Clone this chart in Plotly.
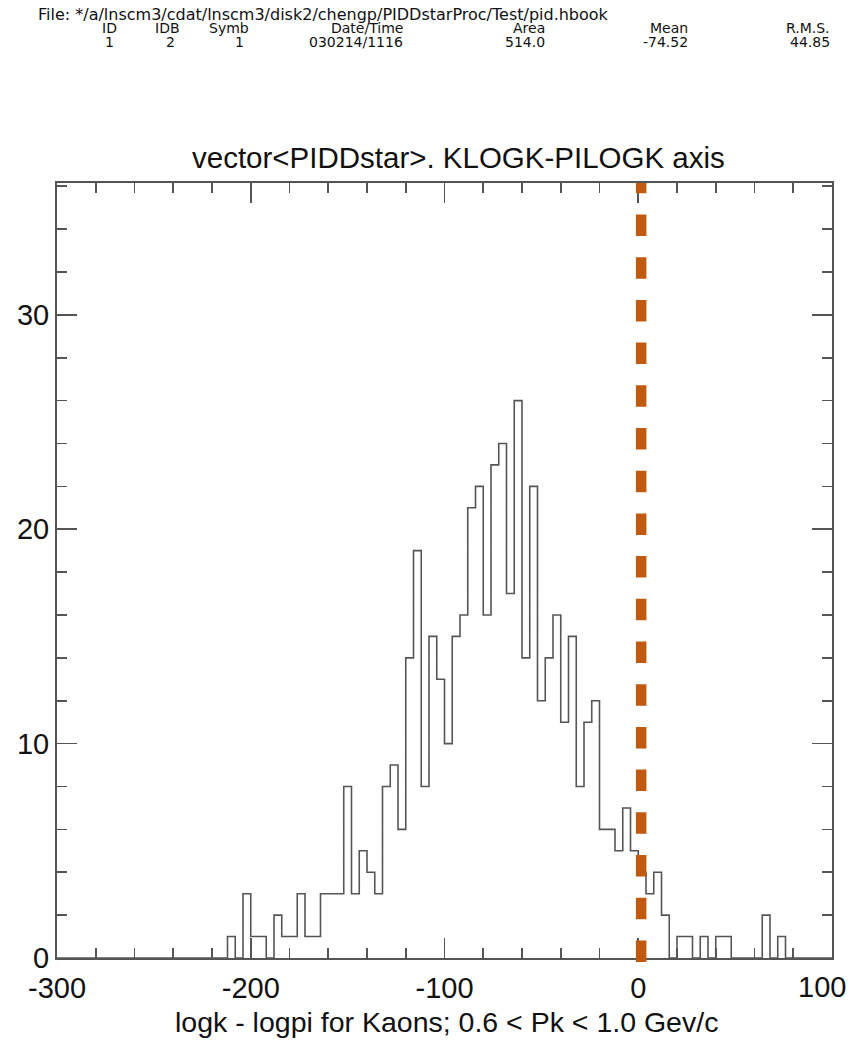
import plotly.graph_objects as go

# ---- data ----
x_min, x_max, bin_width = -300, 100, 4
counts = [
    0, 0, 0, 0, 0, 0, 0, 0, 0, 0,      # -300 .. -260
    0, 0, 0, 0, 0, 0, 0, 0, 0, 0,      # -260 .. -220
    0, 0, 1, 0, 3, 1, 1, 0, 2, 1,      # -220 .. -180
    1, 3, 1, 1, 3, 3, 3, 8, 3, 5,      # -180 .. -140
    4, 3, 8, 9, 6, 14, 19, 8, 15, 13,  # -140 .. -100
    10, 15, 16, 21, 22, 16, 23, 24, 17, 26,  # -100 .. -60
    14, 22, 12, 14, 16, 11, 15, 8, 11, 12,   # -60 .. -20
    6, 6, 5, 7, 5, 4, 3, 4, 2, 0,      # -20 .. 20
    1, 1, 0, 1, 0, 1, 1, 0, 0, 0,      # 20 .. 60
    0, 2, 0, 1, 0, 0, 0, 0, 0, 0,      # 60 .. 100
]
cut_value = 1.5
x_tick_vals = [-300, -200, -100, 0, 100]
x_tick_text = ["-300", "-200", "-100", "0", "100"]
y_tick_vals = [0, 10, 20, 30]
y_tick_text = ["0", "10", "20", "30"]

title_text = "vector&lt;PIDDstar&gt;. KLOGK-PILOGK axis"
xlabel_text = "logk - logpi for Kaons; 0.6 &lt; Pk &lt; 1.0 Gev/c"
file_text = "File: */a/lnscm3/cdat/lnscm3/disk2/chengp/PIDDstarProc/Test/pid.hbook"
header_cols = ["ID", "IDB", "Symb", "Date/Time", "Area", "Mean", "R.M.S."]
header_vals = ["1", "2", "1", "030214/1116", "514.0", "-74.52", "44.85"]

# ---- layout geometry (page pixels; body margin removed below) ----
W, H = 858, 1043
L, R, T, B = 57, 832, 183, 958          # plot frame
PW, PH = R - L, B - T

def px(xp):
    return (xp - L) / PW

def py(yp):
    return (B - yp) / PH

nb = len(counts)
edges = [x_min + bin_width * i for i in range(nb + 1)]
step_y = counts + [counts[-1]]

fig = go.Figure()
fig.add_trace(go.Scatter(
    x=edges, y=step_y, mode="lines", line=dict(shape="hv", color="#555555", width=1.6),
    hoverinfo="skip", showlegend=False,
))

fig.add_shape(type="line", xref="x", yref="paper", x0=cut_value, x1=cut_value,
              y0=-0.005, y1=1.0,
              line=dict(color="#BF5A0E", width=10.5, dash="21.5px,21.2px"))

font_family = "Liberation Sans, Arial, sans-serif"
axis_common = dict(
    showline=True, linecolor="#555555", linewidth=2, mirror="allticks",
    ticks="inside", ticklen=20, tickwidth=1.6, tickcolor="#555555",
    showgrid=False, zeroline=False,
    tickfont=dict(family=font_family, size=29, color="#111111"),
)
fig.update_xaxes(range=[x_min, x_max], tickmode="array", tickvals=x_tick_vals,
                 ticktext=x_tick_text[:-1] + [""],
                 minor=dict(ticks="inside", ticklen=10, dtick=20, tick0=-300,
                            tickcolor="#555555", tickwidth=1.6, showgrid=False),
                 ticklabelstandoff=3, **axis_common)
fig.update_yaxes(range=[0, 36.15], tickmode="array", tickvals=y_tick_vals,
                 ticktext=y_tick_text,
                 minor=dict(ticks="inside", ticklen=10, dtick=2, tick0=0,
                            tickcolor="#555555", tickwidth=1.6, showgrid=False),
                 ticklabelstandoff=0, **axis_common)

ann = []
# last x tick label sits shifted left so that it stays inside the page
ann.append(dict(text=x_tick_text[-1], x=px(822), y=py(987), xref="paper", yref="paper",
                xanchor="center", yanchor="middle", showarrow=False,
                font=dict(family=font_family, size=29, color="#111111")))
ann.append(dict(text=title_text, x=px(458), y=py(157), xref="paper", yref="paper",
                xanchor="center", yanchor="middle", showarrow=False,
                font=dict(family=font_family, size=29.5, color="#111111")))
ann.append(dict(text=xlabel_text, x=px(446), y=py(1022), xref="paper", yref="paper",
                xanchor="center", yanchor="middle", showarrow=False,
                font=dict(family=font_family, size=28.5, color="#111111")))
hfont = dict(family="DejaVu Sans, sans-serif", size=14, color="#111111")
ann.append(dict(text=file_text, x=px(36), y=py(14), xref="paper", yref="paper",
                xanchor="left", yanchor="middle", showarrow=False,
                font=dict(family="DejaVu Sans, sans-serif", size=16, color="#111111")))
col_right = [119, 182, 251, 405, 547, 690, 832]
val_right = [116, 177, 246, 405, 547, 690, 832]
for c, v, cr, vr in zip(header_cols, header_vals, col_right, val_right):
    ann.append(dict(text=c, x=px(cr), y=py(28.5), xref="paper", yref="paper",
                    xanchor="right", yanchor="middle", showarrow=False, font=hfont))
    ann.append(dict(text=v, x=px(vr), y=py(42.5), xref="paper", yref="paper",
                    xanchor="right", yanchor="middle", showarrow=False, font=hfont))

fig.update_layout(
    width=W, height=H, autosize=False,
    margin=dict(l=L, r=W - R, t=T, b=H - B, pad=0),
    paper_bgcolor="white", plot_bgcolor="white",
    annotations=ann, showlegend=False,
)
fig.write_html(
    "out.html",
    config={"displayModeBar": False, "staticPlot": True},
    post_script="document.body.style.margin='0';document.body.style.overflow='hidden';",
)
